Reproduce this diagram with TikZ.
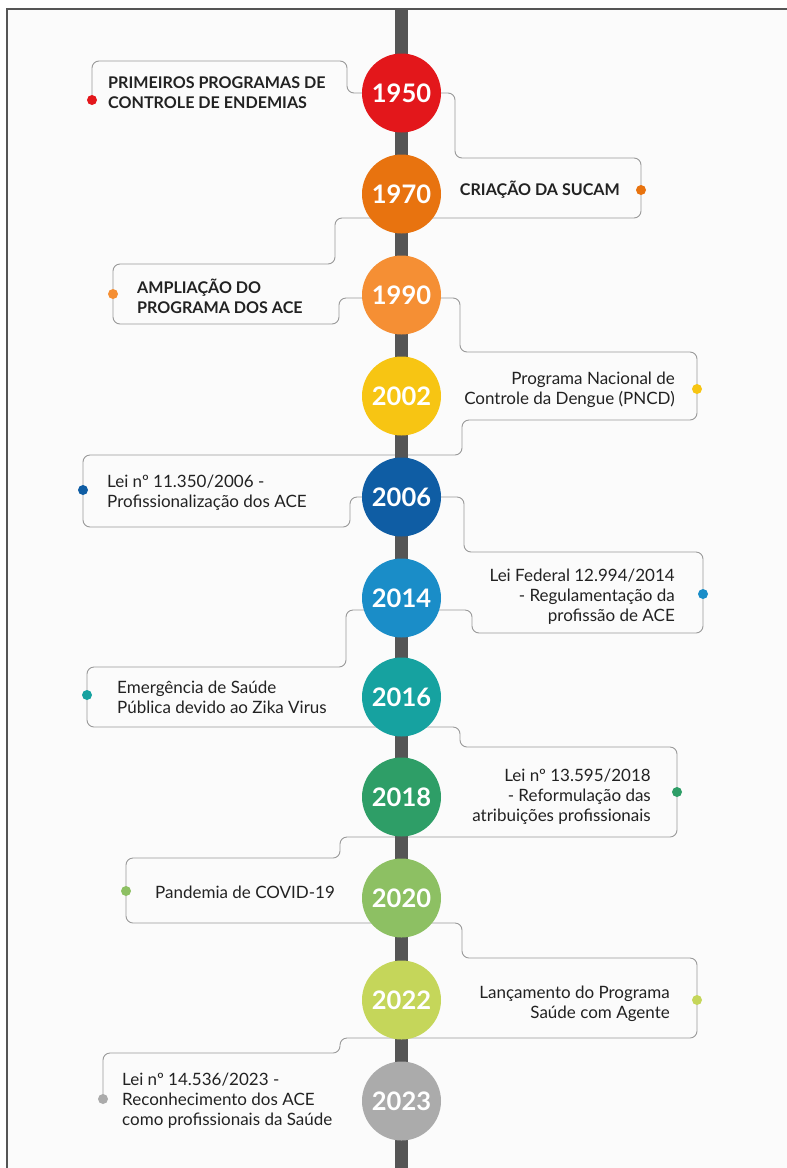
\documentclass[tikz,border=0pt]{standalone}
\usepackage{fontspec}
\setmainfont{Lato}
\definecolor{c1950}{HTML}{E3171B}
\definecolor{c1970}{HTML}{E8730F}
\definecolor{c1990}{HTML}{F58F34}
\definecolor{c2002}{HTML}{F7C513}
\definecolor{c2006}{HTML}{0F5DA4}
\definecolor{c2014}{HTML}{1A8DC8}
\definecolor{c2016}{HTML}{16A2A0}
\definecolor{c2018}{HTML}{2E9E67}
\definecolor{c2020}{HTML}{8DC063}
\definecolor{c2022}{HTML}{C5D65A}
\definecolor{c2023}{HTML}{ABABAB}
\definecolor{bgc}{HTML}{FBFBFB}
\definecolor{linec}{HTML}{999999}
\definecolor{axisc}{HTML}{555555}
\definecolor{txtc}{HTML}{222222}
\begin{document}
\begin{tikzpicture}[x=1pt,y=-1pt,
  year/.style={circle, fill=#1, minimum size=79pt, inner sep=0pt, text=white,
    font=\bfseries\fontsize{25.5}{25}\selectfont},
  dotc/.style={circle, fill=#1, minimum size=10pt, inner sep=0pt},
  snake/.style={draw=linec, line width=0.9pt, rounded corners=7pt},
  lbl/.style={font=\fontsize{17}{20}\selectfont, text=txtc, inner sep=0pt},
  blbl/.style={font=\bfseries\fontsize{16.1}{20}\selectfont, text=txtc, inner sep=0pt}]
\useasboundingbox (0,0) rectangle (787,1168);
\fill[white] (0,0) rectangle (787,1168);
\fill[bgc] (7,9) rectangle (787,1168);
\draw[axisc, line width=1.5pt] (7,1168) -- (7,9) -- (787,9);

% dots (named)
\coordinate (p1950) at (92,100);
\coordinate (p1970) at (641,190);
\coordinate (p1990) at (113,294);
\coordinate (p2002) at (697,389);
\coordinate (p2006) at (83,490);
\coordinate (p2014) at (703,594);
\coordinate (p2016) at (87,695);
\coordinate (p2018) at (677,792);
\coordinate (p2020) at (126,891);
\coordinate (p2022) at (697,1000);
\coordinate (p2023) at (103,1099);

% snake connector
\draw[snake] (p1950) -- (92,61) -- (347,61) -- (347,93) -- (455,93) -- (455,158) -- (641,158) -- (p1970);
\draw[snake] (p1970) -- (641,218) -- (335,218) -- (335,264) -- (113,264) -- (p1990);
\draw[snake] (p1990) -- (113,324) -- (339,324) -- (339,298) -- (460,298) -- (460,352) -- (697,352) -- (p2002);
\draw[snake] (p2002) -- (697,420) -- (462,420) -- (462,455) -- (83,455) -- (p2006);
\draw[snake] (p2006) -- (83,527) -- (350,527) -- (350,497) -- (464,497) -- (464,552) -- (703,552) -- (p2014);
\draw[snake] (p2014) -- (703,633) -- (472,633) -- (472,610) -- (346,610) -- (346,667) -- (87,667) -- (p2016);
\draw[snake] (p2016) -- (87,727) -- (460,727) -- (460,747) -- (677,747) -- (p2018);
\draw[snake] (p2018) -- (677,837) -- (340,837) -- (340,858) -- (126,858) -- (p2020);
\draw[snake] (p2020) -- (126,923) -- (462,923) -- (462,958) -- (697,958) -- (p2022);
\draw[snake] (p2022) -- (697,1038) -- (340,1038) -- (340,1053) -- (103,1053) -- (p2023);

% axis
\coordinate (atop) at (401.5,9);
\coordinate (abot) at (401.5,1168);
\draw[axisc, line width=12.5pt] (atop) -- (abot);

% year circles
\node[year=c1950] (y1950) at (401.5,93) {1950};
\node[year=c1970] (y1970) at (401.5,194) {1970};
\node[year=c1990] (y1990) at (401.5,295) {1990};
\node[year=c2002] (y2002) at (401.5,396) {2002};
\node[year=c2006] (y2006) at (401.5,497) {2006};
\node[year=c2014] (y2014) at (401.5,598) {2014};
\node[year=c2016] (y2016) at (401.5,697) {2016};
\node[year=c2018] (y2018) at (401.5,797) {2018};
\node[year=c2020] (y2020) at (401.5,898) {2020};
\node[year=c2022] (y2022) at (401.5,1000) {2022};
\node[year=c2023] (y2023) at (401.5,1101) {2023};

% dots
\node[dotc=c1950] (d1950) at (p1950) {};
\node[dotc=c1970] (d1970) at (p1970) {};
\node[dotc=c1990] (d1990) at (p1990) {};
\node[dotc=c2002] (d2002) at (p2002) {};
\node[dotc=c2006] (d2006) at (p2006) {};
\node[dotc=c2014] (d2014) at (p2014) {};
\node[dotc=c2016] (d2016) at (p2016) {};
\node[dotc=c2018] (d2018) at (p2018) {};
\node[dotc=c2020] (d2020) at (p2020) {};
\node[dotc=c2022] (d2022) at (p2022) {};
\node[dotc=c2023] (d2023) at (p2023) {};

% labels
\node[blbl, anchor=west, align=left] (t1950) at (108,93) {PRIMEIROS PROGRAMAS DE\\CONTROLE DE ENDEMIAS};
\node[blbl, anchor=east, align=right] (t1970) at (620,190) {CRIAÇÃO DA SUCAM};
\node[blbl, anchor=west, align=left] (t1990) at (137,296) {AMPLIAÇÃO DO\\PROGRAMA DOS ACE};
\node[lbl, anchor=east, align=right] (t2002) at (675,390) {Programa Nacional de\\Controle da Dengue (PNCD)};
\node[lbl, anchor=west, align=left] (t2006) at (107,493) {Lei nº 11.350/2006 -\\Profissionalização dos ACE};
\node[lbl, anchor=east, align=right] (t2014) at (675,597) {Lei Federal 12.994/2014\\- Regulamentação da\\profissão de ACE};
\node[lbl, anchor=west, align=left] (t2016) at (117,697) {Emergência de Saúde\\Pública devido ao Zika Virus};
\node[lbl, anchor=east, align=right] (t2018) at (651,797) {Lei nº 13.595/2018\\- Reformulação das\\atribuições profissionais};
\node[lbl, anchor=west, align=left] (t2020) at (155,892) {Pandemia de COVID-19};
\node[lbl, anchor=east, align=right] (t2022) at (670,1004) {Lançamento do Programa\\Saúde com Agente};
\node[lbl, anchor=west, align=left] (t2023) at (122,1101) {Lei nº 14.536/2023 -\\Reconhecimento dos ACE\\como profissionais da Saúde};
\end{tikzpicture}
\end{document}
